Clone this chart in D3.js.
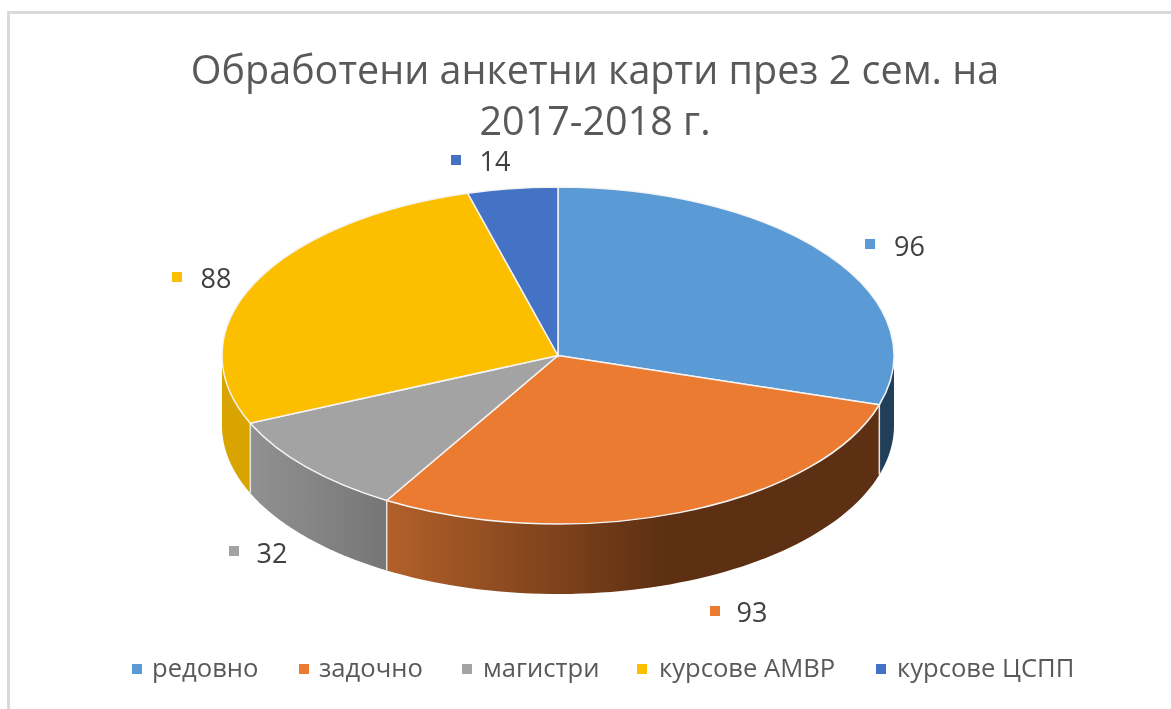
<!DOCTYPE html>
<html><head><meta charset="utf-8">
<script src="https://cdn.jsdelivr.net/npm/d3@7"></script>
<style>html,body{margin:0;padding:0;background:#fff}svg{display:block;filter:blur(0.45px)}text{font-family:"Open Sans",sans-serif}</style>
</head><body><svg id="c" width="1171" height="709"></svg>
<script>
const categories=["редовно","задочно","магистри","курсове АМВР","курсове ЦСПП"];
const values=[96,93,32,88,14];
const colors=["#5b9bd5","#ea7b30","#a3a3a3","#fbbf00","#4472c4"];
const titleLines=["Обработени анкетни карти през 2 сем. на","2017-2018 г."];
const labelX=[909.5,752,272,216,495];
const labelY=[247,613,554,279,162];
const labelMarkX=[870,715,234,177,456];
const labelMarkY=[244,611,551,277,160];
const legendMarkX=[137,304,467,642,881];
const legendTextX=[152,319,483,659,897];
const cx=558,cy=355.5,rx=336,ry=168.5,depth=70;
const svg=d3.select("#c");
const defs=svg.append("defs");
svg.append("rect").attr("x",8.5).attr("y",12.5).attr("width",1200).attr("height",760).attr("fill","#fff").attr("stroke","#d9d9d9").attr("stroke-width",3);
const arcs=d3.pie().sort(null).value(d=>d)(values);
const px=a=>cx+rx*Math.sin(a), py=a=>cy-ry*Math.cos(a);
const g1=defs.append("linearGradient").attr("id","go").attr("gradientUnits","userSpaceOnUse").attr("x1",387).attr("x2",660).attr("y1",0).attr("y2",0);
g1.append("stop").attr("offset",0).attr("stop-color","#b2602a");
g1.append("stop").attr("offset",1).attr("stop-color","#5e3013");
const g2=defs.append("linearGradient").attr("id","gg").attr("gradientUnits","userSpaceOnUse").attr("x1",250).attr("x2",387).attr("y1",0).attr("y2",0);
g2.append("stop").attr("offset",0).attr("stop-color","#919191");
g2.append("stop").attr("offset",1).attr("stop-color","#767676");
const sideFill=["#223f59","url(#go)","url(#gg)","#d9a300","none"];
function wall(a0,a1){
  const lo=Math.max(a0,Math.PI/2),hi=Math.min(a1,1.5*Math.PI);
  if(hi<=lo) return null;
  const n=60,s=d3.range(n+1).map(i=>lo+(hi-lo)*i/n);
  const top=s.map(a=>[px(a),py(a)]),bot=s.slice().reverse().map(a=>[px(a),py(a)+depth]);
  return d3.line()(top.concat(bot))+"Z";
}
svg.append("g").selectAll("path").data(arcs.filter(d=>wall(d.startAngle,d.endAngle))).join("path")
 .attr("d",d=>wall(d.startAngle,d.endAngle))
 .attr("fill",d=>sideFill[d.index]).attr("stroke","none");
svg.append("g").selectAll("line").data(arcs.filter(d=>d.endAngle>Math.PI/2&&d.endAngle<1.5*Math.PI)).join("line")
 .attr("x1",d=>px(d.endAngle)).attr("x2",d=>px(d.endAngle)).attr("y1",d=>py(d.endAngle)).attr("y2",d=>py(d.endAngle)+depth)
 .attr("stroke","#e4e4e4").attr("stroke-width",1.5);
const arc=d3.arc().innerRadius(0).outerRadius(rx);
svg.append("g").attr("transform",`translate(${cx},${cy}) scale(1,${ry/rx})`)
 .selectAll("path").data(arcs).join("path").attr("d",arc)
 .attr("fill",(d,i)=>colors[i]).attr("stroke","#f4f4f4").attr("stroke-width",1.5).attr("vector-effect","non-scaling-stroke");
svg.append("g").selectAll("text").data(titleLines).join("text")
 .attr("x",595).attr("y",(d,i)=>84+i*51).attr("text-anchor","middle").attr("font-size",39.5).attr("fill","#595959").text(d=>d);
const lab=svg.append("g").selectAll("g").data(values).join("g");
lab.append("rect").attr("x",(d,i)=>labelMarkX[i]-5).attr("y",(d,i)=>labelMarkY[i]-5).attr("width",10).attr("height",10).attr("fill",(d,i)=>colors[i]);
lab.append("text").attr("x",(d,i)=>labelX[i]).attr("y",(d,i)=>labelY[i]+8.5).attr("text-anchor","middle").attr("font-size",27).attr("fill","#404040").text(d=>d);
const leg=svg.append("g").selectAll("g").data(categories).join("g");
leg.append("rect").attr("x",(d,i)=>legendMarkX[i]-5).attr("y",664).attr("width",10).attr("height",10).attr("fill",(d,i)=>colors[i]);
leg.append("text").attr("x",(d,i)=>legendTextX[i]).attr("y",677).attr("font-size",25.6).attr("fill","#595959").text(d=>d);
</script></body></html>
